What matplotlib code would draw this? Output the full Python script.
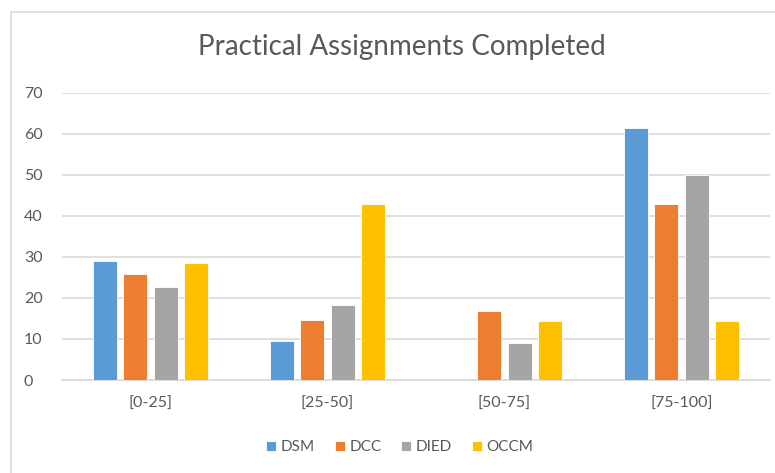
import matplotlib
matplotlib.use("Agg")
import matplotlib.pyplot as plt
from matplotlib.patches import Rectangle
import numpy as np

categories = ["[0-25]", "[25-50]", "[50-75]", "[75-100]"]
series_names = ["DSM", "DCC", "DIED", "OCCM"]
DSM = [28.9, 9.4, 0, 61.4]
DCC = [25.8, 14.7, 16.7, 42.8]
DIED = [22.6, 18.2, 9.1, 50.0]
OCCM = [28.6, 42.8, 14.3, 14.3]
yticks = [0, 10, 20, 30, 40, 50, 60, 70]

colors = ["#5B9BD5", "#ED7D31", "#A5A5A5", "#FFC000"]
plt.rcParams['font.family'] = ['Lato', 'DejaVu Sans']

W, H = 775, 473
fig = plt.figure(figsize=(W / 100, H / 100), dpi=100)
fig.patch.set_facecolor("white")

# chart border
fig.patches.append(Rectangle((11 / W, -0.05), 1.1, (H - 12) / H + 0.05,
                             transform=fig.transFigure, fill=False,
                             edgecolor="#d9d9d9", linewidth=1.2, zorder=0))

ax = fig.add_axes([62 / W, (H - 380) / H, (770 - 62) / W, (380 - 92.7) / H])
x = np.arange(len(categories))
step = 0.173
width = 0.136
for i, (name, vals) in enumerate(zip(series_names, [DSM, DCC, DIED, OCCM])):
    ax.bar(x + (i - 1.5) * step, vals, width=width, color=colors[i],
           label=name, zorder=3, edgecolor="white", linewidth=0.6)

ax.set_xlim(-0.5, 3.5)
ax.set_ylim(0, 70)
ax.set_yticks(yticks)
ax.set_xticks(x)
ax.set_xticklabels(categories)
ax.yaxis.grid(True, color="#d9d9d9", linewidth=1.2, zorder=0)
for s in ["top", "right", "left"]:
    ax.spines[s].set_visible(False)
ax.spines["bottom"].set_color("#d9d9d9")
ax.spines["bottom"].set_linewidth(1.2)
ax.tick_params(axis="both", length=0, colors="#595959", labelsize=11.5)
ax.tick_params(axis="y", pad=0)
ax.tick_params(axis="x", pad=12)
for lbl in ax.get_yticklabels():
    lbl.set_horizontalalignment("left")
    lbl.set_x(-0.054)

fig.text(402 / W, 1 - 47 / H, "Practical Assignments Completed", ha="center",
         va="center", fontsize=20, color="#595959")

leg = fig.legend(loc="center", bbox_to_anchor=(400 / W, 1 - 447 / H), ncol=4,
                 frameon=False, fontsize=11, handlelength=0.65, handleheight=0.65,
                 handletextpad=0.3, columnspacing=1.3, labelcolor="#595959")

fig.savefig("out.png", dpi=100, facecolor="white")
